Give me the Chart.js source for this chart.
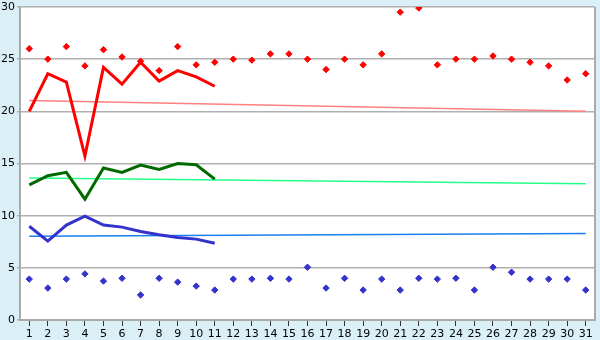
<!DOCTYPE html>
<html>
<head>
<meta charset="utf-8">
<script src="https://cdn.jsdelivr.net/npm/chart.js@4"></script>
<style>
  html, body { margin: 0; padding: 0; background: #daf0f6; }
  #wrap { width: 600px; height: 340px; }
</style>
</head>
<body>
<div id="wrap"><canvas id="chart" width="600" height="340"></canvas></div>
<script>
// days of the month
const days = ["1","2","3","4","5","6","7","8","9","10","11","12","13","14","15","16",
  "17","18","19","20","21","22","23","24","25","26","27","28","29","30","31"];

// upper scatter (red diamonds)
const redPoints = [26.0, 25.0, 26.2, 24.35, 25.9, 25.2, 24.8, 23.9, 26.2, 24.45, 24.7, 25.0, 24.9, 25.5, 25.5, 25.0,
  24.0, 25.0, 24.45, 25.5, 29.5, 29.9, 24.45, 25.0, 25.0, 25.3, 25.0, 24.7, 24.35, 23.0, 23.6];
// lower scatter (blue diamonds)
const bluePoints = [3.92, 3.06, 3.92, 4.42, 3.73, 4.0, 2.4, 4.0, 3.63, 3.25, 2.87, 3.92, 3.92, 4.0, 3.92, 5.06,
  3.06, 4.0, 2.87, 3.92, 2.87, 4.0, 3.92, 4.0, 2.87, 5.06, 4.58, 3.92, 3.92, 3.92, 2.87];

// thick lines, first 11 days only
const redLine = [20.0, 23.6, 22.8, 15.7, 24.2, 22.6, 24.7, 22.9, 23.9, 23.3, 22.4];
const greenLine = [12.95, 13.83, 14.15, 11.58, 14.56, 14.15, 14.85, 14.43, 15.0, 14.88, 13.5];
const blueLine = [8.98, 7.56, 9.1, 9.96, 9.1, 8.9, 8.48, 8.16, 7.9, 7.75, 7.35];

// trend lines: start (day 1) and end (day 31)
const redTrend = [21.03, 20.0];
const greenTrend = [13.6, 13.05];
const blueTrend = [8.03, 8.29];

const yTicks = [0, 5, 10, 15, 20, 25, 30];

function trend(ends) {
  const arr = days.map(() => null);
  arr[0] = ends[0];
  arr[days.length - 1] = ends[1];
  return arr;
}

const frame = {
  id: "frame",
  beforeDraw(chart) {
    const { ctx, chartArea: a } = chart;
    ctx.save();
    ctx.fillStyle = "#daf0f6";
    ctx.fillRect(0, 0, chart.width, chart.height);
    ctx.fillStyle = "#ffffff";
    ctx.fillRect(a.left, a.top, a.right - a.left, a.bottom - a.top);
    ctx.restore();
  },
  afterDraw(chart) {
    const { ctx, chartArea: a } = chart;
    ctx.save();
    ctx.strokeStyle = "#aaaaaa";
    ctx.lineWidth = 2;
    ctx.beginPath();
    ctx.moveTo(a.right, a.top);
    ctx.lineTo(a.right, a.bottom);
    ctx.stroke();
    ctx.restore();
  }
};

const line = (data, color) => ({
  data, borderColor: color, borderWidth: 3, pointRadius: 0, fill: false, tension: 0
});
const dots = (data, color) => ({
  data, showLine: false, pointStyle: "rectRot", pointRadius: 3.2,
  pointBackgroundColor: color, pointBorderColor: color, borderColor: color
});
const thin = (ends, color) => ({
  data: trend(ends), borderColor: color, borderWidth: 1.5, pointRadius: 0, spanGaps: true, tension: 0
});

new Chart(document.getElementById("chart"), {
  type: "line",
  data: {
    labels: days,
    datasets: [
      dots(redPoints, "#ff0000"),
      dots(bluePoints, "#3333cc"),
      line(redLine, "#ff0000"),
      line(greenLine, "#006a00"),
      line(blueLine, "#3333cc"),
      thin(redTrend, "#ff8080"),
      thin(greenTrend, "#22ff88"),
      thin(blueTrend, "#1a7fef")
    ]
  },
  options: {
    responsive: false,
    animation: false,
    layout: { padding: { top: 0, right: 5, left: 0, bottom: 0 } },
    plugins: { legend: { display: false }, tooltip: { enabled: false } },
    scales: {
      x: {
        offset: true,
        grid: { drawOnChartArea: false, drawTicks: true, tickLength: 6, color: "#333333" },
        border: { color: "#aaaaaa", width: 2 },
        ticks: { color: "#000", padding: 2, maxRotation: 0, autoSkip: false,
          font: { family: "DejaVu Sans", size: 11 } },
        afterFit(s) { s.height = 20; }
      },
      y: {
        min: 0, max: 30,
        afterBuildTicks(s) { s.ticks = yTicks.map(v => ({ value: v })); },
        grid: { color: "#b0b0b0", tickLength: 3, lineWidth: 1.5 },
        border: { color: "#aaaaaa", width: 2 },
        ticks: { color: "#000", padding: 2, font: { family: "DejaVu Sans", size: 11, lineHeight: 0.9 } },
        afterFit(s) { s.width = 20; }
      }
    }
  },
  plugins: [frame]
});
</script>
</body>
</html>
